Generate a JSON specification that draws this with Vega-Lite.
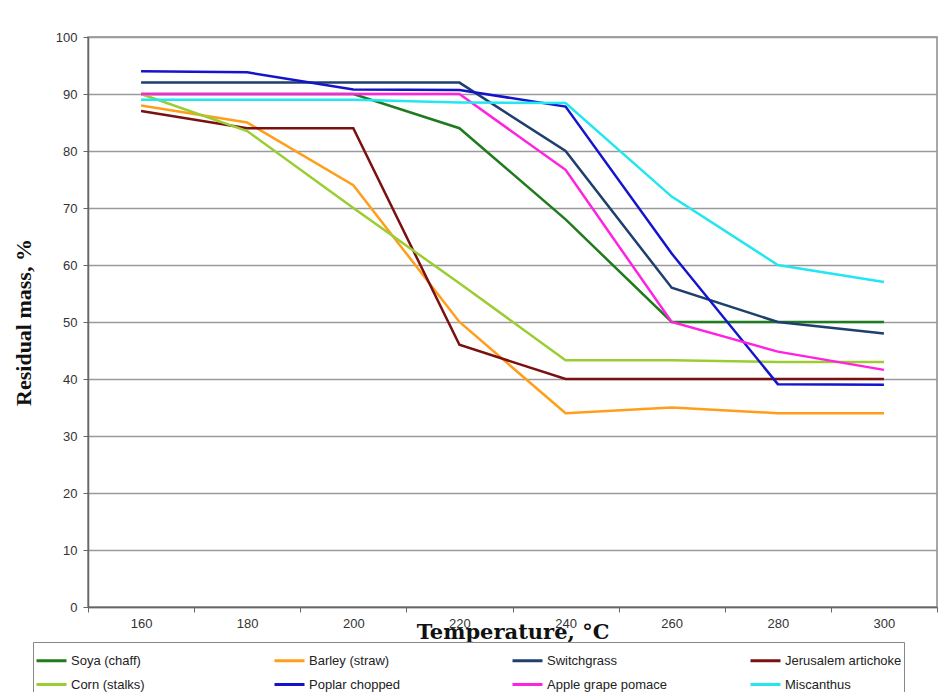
{
  "$schema": "https://vega.github.io/schema/vega-lite/v6.json",
  "width": 849,
  "height": 570,
  "autosize": {"type": "none"},
  "padding": {"left": 88, "top": 37, "right": 9, "bottom": 85},
  "background": "white",
  "config": {
    "view": {"stroke": "#8a8a8a", "strokeWidth": 1.5},
    "font": "Liberation Sans"
  },
  "data": {
    "values": [
      {"series": "Soya (chaff)", "T": "160", "mass": 90},
      {"series": "Soya (chaff)", "T": "180", "mass": 90},
      {"series": "Soya (chaff)", "T": "200", "mass": 90},
      {"series": "Soya (chaff)", "T": "220", "mass": 84},
      {"series": "Soya (chaff)", "T": "240", "mass": 68},
      {"series": "Soya (chaff)", "T": "260", "mass": 50},
      {"series": "Soya (chaff)", "T": "280", "mass": 50},
      {"series": "Soya (chaff)", "T": "300", "mass": 50},
      {"series": "Barley (straw)", "T": "160", "mass": 88},
      {"series": "Barley (straw)", "T": "180", "mass": 85},
      {"series": "Barley (straw)", "T": "200", "mass": 74},
      {"series": "Barley (straw)", "T": "220", "mass": 50},
      {"series": "Barley (straw)", "T": "240", "mass": 34},
      {"series": "Barley (straw)", "T": "260", "mass": 35},
      {"series": "Barley (straw)", "T": "280", "mass": 34},
      {"series": "Barley (straw)", "T": "300", "mass": 34},
      {"series": "Switchgrass", "T": "160", "mass": 92},
      {"series": "Switchgrass", "T": "180", "mass": 92},
      {"series": "Switchgrass", "T": "200", "mass": 92},
      {"series": "Switchgrass", "T": "220", "mass": 92},
      {"series": "Switchgrass", "T": "240", "mass": 80},
      {"series": "Switchgrass", "T": "260", "mass": 56},
      {"series": "Switchgrass", "T": "280", "mass": 50},
      {"series": "Switchgrass", "T": "300", "mass": 48},
      {"series": "Jerusalem artichoke", "T": "160", "mass": 87},
      {"series": "Jerusalem artichoke", "T": "180", "mass": 84},
      {"series": "Jerusalem artichoke", "T": "200", "mass": 84},
      {"series": "Jerusalem artichoke", "T": "220", "mass": 46},
      {"series": "Jerusalem artichoke", "T": "240", "mass": 40},
      {"series": "Jerusalem artichoke", "T": "260", "mass": 40},
      {"series": "Jerusalem artichoke", "T": "280", "mass": 40},
      {"series": "Jerusalem artichoke", "T": "300", "mass": 40},
      {"series": "Corn (stalks)", "T": "160", "mass": 90},
      {"series": "Corn (stalks)", "T": "180", "mass": 83.5},
      {"series": "Corn (stalks)", "T": "200", "mass": 70},
      {"series": "Corn (stalks)", "T": "220", "mass": 56.8},
      {"series": "Corn (stalks)", "T": "240", "mass": 43.3},
      {"series": "Corn (stalks)", "T": "260", "mass": 43.3},
      {"series": "Corn (stalks)", "T": "280", "mass": 43},
      {"series": "Corn (stalks)", "T": "300", "mass": 43},
      {"series": "Poplar chopped", "T": "160", "mass": 94},
      {"series": "Poplar chopped", "T": "180", "mass": 93.8},
      {"series": "Poplar chopped", "T": "200", "mass": 90.8},
      {"series": "Poplar chopped", "T": "220", "mass": 90.7},
      {"series": "Poplar chopped", "T": "240", "mass": 87.8},
      {"series": "Poplar chopped", "T": "260", "mass": 62},
      {"series": "Poplar chopped", "T": "280", "mass": 39.1},
      {"series": "Poplar chopped", "T": "300", "mass": 39},
      {"series": "Apple grape pomace", "T": "160", "mass": 90},
      {"series": "Apple grape pomace", "T": "180", "mass": 90},
      {"series": "Apple grape pomace", "T": "200", "mass": 90},
      {"series": "Apple grape pomace", "T": "220", "mass": 90},
      {"series": "Apple grape pomace", "T": "240", "mass": 76.7},
      {"series": "Apple grape pomace", "T": "260", "mass": 50},
      {"series": "Apple grape pomace", "T": "280", "mass": 44.8},
      {"series": "Apple grape pomace", "T": "300", "mass": 41.6},
      {"series": "Miscanthus", "T": "160", "mass": 89},
      {"series": "Miscanthus", "T": "180", "mass": 89},
      {"series": "Miscanthus", "T": "200", "mass": 89},
      {"series": "Miscanthus", "T": "220", "mass": 88.5},
      {"series": "Miscanthus", "T": "240", "mass": 88.4},
      {"series": "Miscanthus", "T": "260", "mass": 72},
      {"series": "Miscanthus", "T": "280", "mass": 60},
      {"series": "Miscanthus", "T": "300", "mass": 57}
    ]
  },
  "mark": {"type": "line", "strokeWidth": 2.5},
  "encoding": {
    "x": {
      "field": "T",
      "type": "ordinal",
      "sort": null,
      "scale": {"type": "band", "paddingInner": 0, "paddingOuter": 0},
      "axis": {
        "title": "Temperature, °C",
        "titleFont": "DejaVu Serif",
        "titleFontSize": 21,
        "titleFontWeight": "bold",
        "titleColor": "#111",
        "titlePadding": -9,
        "labelAngle": 0,
        "labelFont": "Liberation Sans",
        "labelFontSize": 13,
        "labelColor": "#333",
        "labelPadding": 5,
        "tickBand": "extent",
        "tickColor": "#666",
        "tickSize": 5,
        "domainColor": "#666",
        "domainWidth": 1.5,
        "grid": false
      }
    },
    "y": {
      "field": "mass",
      "type": "quantitative",
      "scale": {"domain": [0, 100]},
      "axis": {
        "title": "Residual mass, %",
        "titleFont": "Liberation Serif",
        "titleFontSize": 22,
        "titleFontWeight": "bold",
        "titleColor": "#111",
        "titlePadding": 20,
        "values": [0, 10, 20, 30, 40, 50, 60, 70, 80, 90, 100],
        "labelFont": "Liberation Sans",
        "labelFontSize": 13,
        "labelColor": "#333",
        "labelPadding": 6,
        "tickColor": "#666",
        "tickSize": 5,
        "domainColor": "#666",
        "domainWidth": 1.5,
        "grid": true,
        "gridColor": "#9a9a9a",
        "gridWidth": 1.5
      }
    },
    "color": {
      "field": "series",
      "type": "nominal",
      "scale": {
        "domain": ["Soya (chaff)", "Corn (stalks)", "Barley (straw)", "Poplar chopped", "Switchgrass", "Apple grape pomace", "Jerusalem artichoke", "Miscanthus"],
        "range": ["#1e7b1e", "#9acd32", "#ff9e1b", "#1414cc", "#1f3f6e", "#ff22e0", "#7b1010", "#22e6f0"]
      },
      "legend": {
        "title": null,
        "orient": "none",
        "legendX": -55,
        "legendY": 605,
        "columns": 4,
        "gridAlign": "all",
        "columnPadding": 77,
        "rowPadding": -9,
        "padding": 2,
        "strokeColor": "#888",
        "symbolType": "stroke",
        "symbolSize": 900,
        "symbolStrokeWidth": 3,
        "labelFont": "Liberation Sans",
        "labelFontSize": 13,
        "labelColor": "#222",
        "labelOffset": 3
      }
    }
  }
}
